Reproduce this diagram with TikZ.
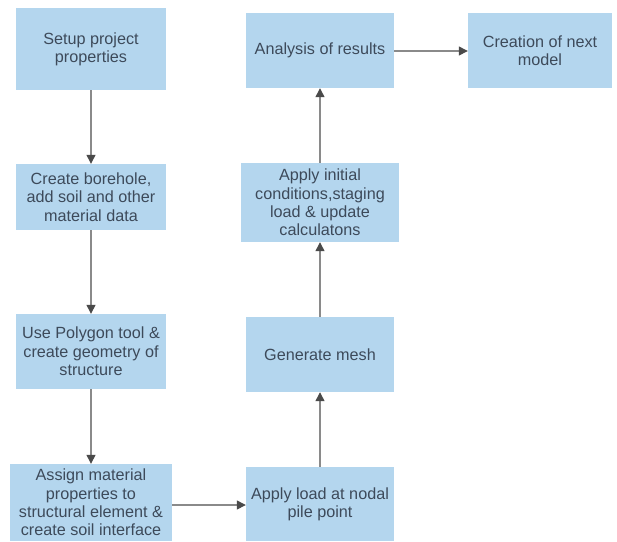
\documentclass[tikz,border=0pt]{standalone}
\usepackage{fontspec}
\setmainfont{Liberation Sans}
\usetikzlibrary{arrows.meta}
\definecolor{boxfill}{HTML}{B4D6EE}
\definecolor{txt}{HTML}{3D4A5A}
\definecolor{linec}{HTML}{8A8A8A}
\definecolor{headc}{HTML}{4A4A4A}
\begin{document}
\begin{tikzpicture}[x=1pt,y=-1pt,
  stepbox/.style={fill=boxfill,draw=none,text=txt,align=center,inner sep=0pt,
    font=\fontsize{16.2}{18.3}\selectfont},
  flow/.style={draw=linec,line width=1.3pt,-{Triangle[length=9pt,width=9pt,fill=headc,color=headc]}}]
\useasboundingbox (0,0) rectangle (617,541);
% boxes via corners
\newcommand{\mybox}[6]{\node[stepbox,minimum width=#4-#2,minimum height=#5-#3] (#1) at ({(#2+#4)/2},{(#3+#5)/2}) {#6};}
\mybox{b1}{16}{8}{166}{90}{Setup project\\properties}
\mybox{b2}{16}{164}{166}{230}{Create borehole,\\add soil and other\\material data}
\mybox{b3}{16}{314}{166}{389}{Use Polygon tool \&\\create geometry of\\structure}
\mybox{b4}{10}{464}{172}{541}{Assign material\\properties to\\structural element \&\\create soil interface}
\mybox{b5}{246}{467}{394}{541}{Apply load at nodal\\pile point}
\mybox{b6}{246}{317}{394}{392}{Generate mesh}
\mybox{b7}{241}{163}{399}{242}{Apply initial\\conditions,staging\\load \& update\\calculatons}
\mybox{b8}{246}{13}{394}{88}{Analysis of results}
\mybox{b9}{468}{13}{612}{88}{Creation of next\\model}
\draw[flow] (b1.south -| 91,0) -- (b2.north -| 91,0);
\draw[flow] (b2.south -| 91,0) -- (b3.north -| 91,0);
\draw[flow] (b3.south -| 91,0) -- (b4.north -| 91,0);
\draw[flow] (b4.east |- 0,505) -- (b5.west |- 0,505);
\draw[flow] (b5.north -| 320,0) -- (b6.south -| 320,0);
\draw[flow] (b6.north -| 320,0) -- (b7.south -| 320,0);
\draw[flow] (b7.north -| 320,0) -- (b8.south -| 320,0);
\draw[flow] (b8.east |- 0,51) -- (b9.west |- 0,51);
\end{tikzpicture}
\end{document}
